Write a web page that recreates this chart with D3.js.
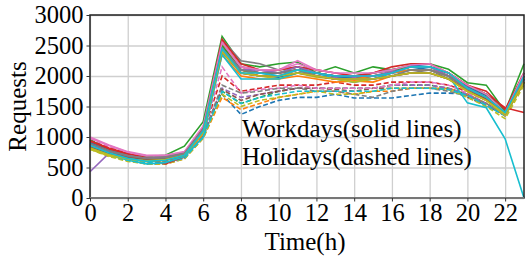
<!DOCTYPE html>
<meta charset="utf-8">
<style>
body { margin: 0; background: #fff; }
svg text { font-family: "Liberation Serif", "Times New Roman", Times, serif; fill: #000; }
.grid line { stroke: #cfcfcf; stroke-width: 1.3px; }
.grid path { display: none; }
.axis path { display: none; }
.axis line { stroke: #333; }
.series { fill: none; stroke-width: 1.6px; }
</style>
<body>
<svg width="531" height="261"></svg>
<script src="https://d3js.org/d3.v7.min.js"></script>
<script>
var hours = d3.range(0, 24);
var xTicks = [0, 2, 4, 6, 8, 10, 12, 14, 16, 18, 20, 22];
var yTicks = [0, 500, 1000, 1500, 2000, 2500, 3000];

// requests per hour, one row per workday
var workdays = [
  [880,760,680,620,630,700,1080,2400,2050,2000,1980,2050,2000,1950,1900,1950,2050,2150,2100,2000,1800,1650,1400,1950],
  [820,720,640,600,620,690,1050,2350,2000,1950,1950,2000,1950,1900,1920,1900,2000,2050,2050,1950,1750,1600,1380,1900],
  [950,800,700,680,700,850,1250,2650,2200,2150,2200,2230,2050,2150,2050,2150,2100,2180,2200,2110,1890,1850,1420,2200],
  [920,800,720,640,560,680,1120,2550,2150,2050,2050,2100,2050,2000,1950,2050,2100,2150,2150,2000,1850,1700,1480,1400],
  [430,730,680,650,680,740,1100,2500,2100,2050,2050,2100,2000,1980,1980,2000,2080,2150,2150,2050,1800,1700,1400,2000],
  [870,760,690,650,660,730,1150,2550,2150,2100,2050,2100,2050,2000,1950,2000,2050,2100,2100,2000,1800,1650,1380,1950],
  [1000,870,760,700,700,750,1150,2500,2150,2050,2100,2250,2100,2050,2000,2050,2100,2150,2150,2050,1850,1700,1350,2050],
  [900,780,700,660,680,740,1150,2600,2250,2200,2100,2150,2000,1950,1950,1950,2000,2050,2100,1950,1780,1620,1400,1950],
  [800,690,630,600,620,700,1080,2400,2050,2000,1950,2050,1980,1950,1900,1950,2000,2050,2050,1950,1750,1600,1350,1900],
  [850,720,620,560,580,680,1000,2350,1950,1950,1950,2050,2050,1950,2000,1950,2050,2100,2100,2000,1560,1480,970,0],
  [900,770,680,640,650,720,1150,2450,2100,2050,2000,2100,2050,2000,1950,2000,2050,2180,2150,2050,1820,1680,1400,2000],
  [860,740,660,620,640,710,1100,2500,2100,2000,2000,2100,2000,1950,1950,2000,2050,2100,2100,2000,1800,1650,1390,1980],
  [880,760,680,640,650,720,1150,2500,2100,2050,2050,2150,2050,2000,2000,2050,2100,2150,2150,2050,1850,1700,1420,2050],
  [940,820,730,660,620,700,1150,2600,2200,2100,2100,2150,2100,2050,2000,2050,2150,2200,2200,2050,1850,1750,1450,2050],
  [870,760,690,650,660,720,1120,2450,2100,2100,2050,2150,2050,2000,2000,2000,2050,2150,2150,2000,1800,1650,1380,1950],
  [840,740,670,630,640,710,1100,2400,2050,2000,2000,2050,2000,1950,1950,1950,2000,2050,2050,1950,1780,1620,1380,1900],
  [980,860,750,690,700,760,1180,2550,2150,2100,2100,2200,2100,2050,2050,2050,2100,2180,2200,2050,1850,1700,1400,2050],
  [890,770,690,650,660,730,1130,2450,2100,2050,2050,2100,2000,1950,1950,1950,2000,2100,2100,2000,1780,1650,1400,1950],
  [820,710,640,610,630,700,1080,2400,2050,2000,2000,2050,2000,1950,1950,1950,2000,2050,2050,1950,1750,1600,1380,1900],
  [860,740,650,600,620,700,1100,2450,2050,2050,2000,2100,2050,2000,2000,2000,2050,2150,2150,2050,1800,1650,1400,2000]
];

// requests per hour, one row per holiday
var holidays = [
  [860,720,620,560,560,650,1000,1700,1370,1500,1600,1650,1650,1700,1640,1640,1640,1680,1720,1720,1700,1500,1380,1900],
  [820,700,610,560,560,640,980,1650,1450,1550,1650,1700,1750,1750,1700,1750,1750,1800,1800,1800,1700,1550,1350,1900],
  [850,720,640,590,600,670,1020,1750,1550,1650,1750,1800,1800,1800,1800,1800,1850,1850,1850,1800,1700,1550,1380,1950],
  [950,820,740,690,680,740,1080,2000,1750,1800,1850,1850,1850,1900,1850,1850,1900,1900,1900,1850,1750,1600,1400,2000],
  [880,750,660,620,620,680,1050,1800,1650,1700,1750,1800,1800,1800,1800,1800,1850,1850,1850,1800,1700,1550,1350,1950],
  [840,720,640,600,600,660,1020,1780,1600,1700,1750,1800,1800,1780,1750,1800,1800,1800,1800,1780,1650,1520,1350,1900],
  [980,840,740,680,660,720,1060,2150,1720,1780,1800,1850,1800,1800,1800,1800,1850,1900,1900,1850,1720,1600,1380,1950],
  [870,740,650,600,600,660,1020,1850,1720,1750,1800,1800,1750,1750,1700,1650,1750,1800,1800,1750,1680,1550,1350,1900],
  [800,680,600,560,560,640,980,1700,1500,1600,1650,1700,1750,1700,1700,1750,1800,1800,1800,1780,1650,1500,1300,1850],
  [830,700,620,580,580,650,1000,1750,1550,1650,1700,1750,1750,1750,1750,1750,1800,1800,1800,1780,1680,1520,1350,1900]
];

var svg = d3.select("svg"),
    margin = {top: 15, right: 7, bottom: 63, left: 90},
    width = +svg.attr("width") - margin.left - margin.right,
    height = +svg.attr("height") - margin.top - margin.bottom;

var serif = '"Liberation Serif", "Times New Roman", Times, serif';

var x = d3.scaleLinear().domain([0, 23]).range([0, width]);
var y = d3.scaleLinear().domain([0, 3000]).range([height, 0]);
var color = d3.scaleOrdinal(d3.schemeCategory10);

var g = svg.append("g")
    .attr("transform", "translate(" + margin.left + "," + margin.top + ")");

// grid
g.append("g")
    .attr("class", "grid")
    .attr("transform", "translate(0," + height + ")")
    .call(d3.axisBottom(x).tickValues(xTicks).tickSize(-height).tickFormat(""));
g.append("g")
    .attr("class", "grid")
    .call(d3.axisLeft(y).tickValues(yTicks).tickSize(-width).tickFormat(""));

var line = d3.line()
    .x(function(d, i) { return x(hours[i]); })
    .y(function(d) { return y(d); });

g.selectAll(".holiday")
    .data(holidays)
  .enter().append("path")
    .attr("class", "series holiday")
    .attr("d", line)
    .attr("stroke", function(d, i) { return color(i % 10); })
    .attr("stroke-dasharray", "5,2.5");

g.selectAll(".workday")
    .data(workdays)
  .enter().append("path")
    .attr("class", "series workday")
    .attr("d", line)
    .attr("stroke", function(d, i) { return d3.schemeCategory10[i % 10]; });

// frame
g.append("rect")
    .attr("width", width).attr("height", height)
    .attr("fill", "none").attr("stroke", "#222").attr("stroke-width", 1.5);
g.append("line")
    .attr("x1", 0).attr("x2", width).attr("y1", height).attr("y2", height)
    .attr("stroke", "#777").attr("stroke-width", 2);

g.append("g")
    .attr("class", "x axis")
    .attr("transform", "translate(0," + height + ")")
    .call(d3.axisBottom(x).tickValues(xTicks).tickSize(3.5).tickPadding(2).tickSizeOuter(0));

g.append("g")
    .attr("class", "y axis")
    .call(d3.axisLeft(y).tickValues(yTicks).tickFormat(d3.format("d"))
      .tickSize(3.5).tickPadding(3).tickSizeOuter(0));

g.selectAll(".axis").attr("font-family", serif).attr("font-size", 24.5);

g.append("text")
    .attr("x", 152).attr("y", 122)
    .style("font-size", "25px")
    .text("Workdays(solid lines)");
g.append("text")
    .attr("x", 152).attr("y", 150)
    .style("font-size", "25px")
    .text("Holidays(dashed lines)");

svg.append("text")
    .attr("transform", "translate(26," + (margin.top + height / 2) + ") rotate(-90)")
    .attr("text-anchor", "middle")
    .style("font-size", "25px")
    .text("Requests");

svg.append("text")
    .attr("x", margin.left + width / 2 - 2)
    .attr("y", 250)
    .attr("text-anchor", "middle")
    .style("font-size", "25px")
    .text("Time(h)");
</script>
</body>
</html>
